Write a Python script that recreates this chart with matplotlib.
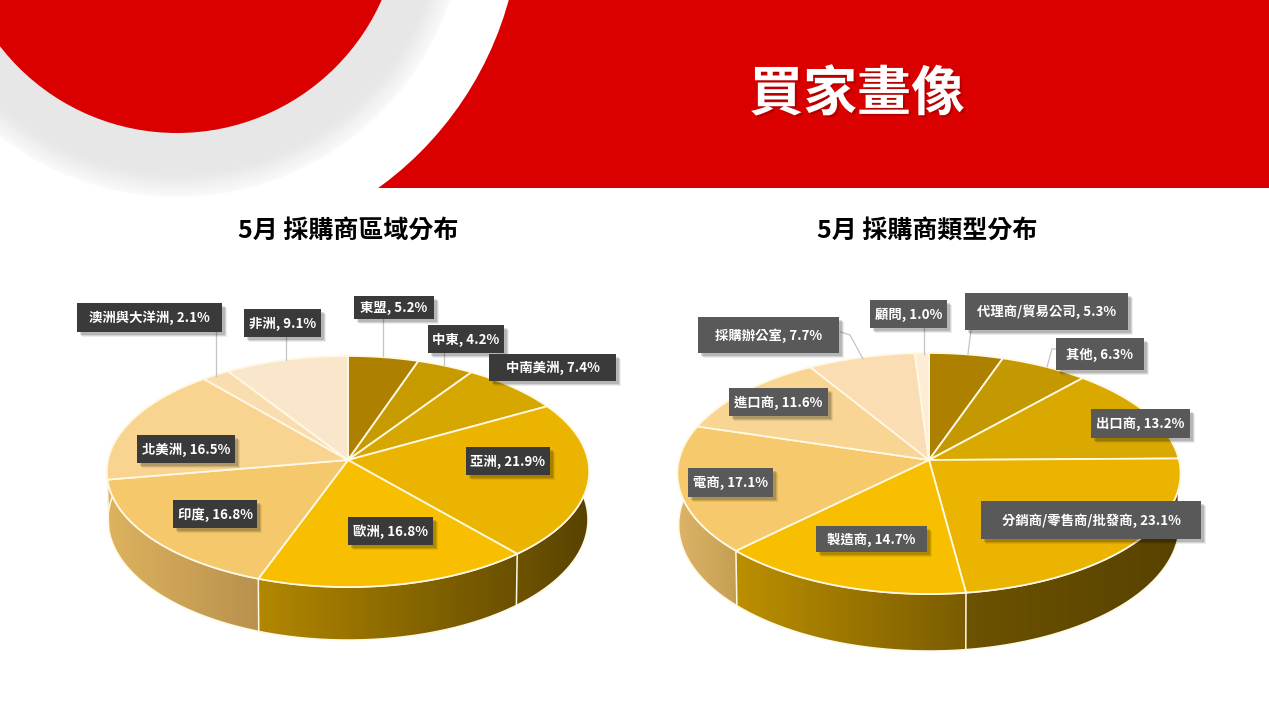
import numpy as np
import matplotlib
matplotlib.use("Agg")
import matplotlib.pyplot as plt
import matplotlib.patheffects as pe
from matplotlib.patches import Circle, Polygon, Rectangle
from matplotlib.colors import to_rgb

plt.rcParams['font.family'] = ['Noto Sans CJK TC', 'DejaVu Sans']

# Data
region_names = ['東盟', '中東', '中南美洲', '亞洲', '歐洲', '印度', '北美洲', '澳洲與大洋洲', '非洲']
region_values = [5.2, 4.2, 7.4, 21.9, 16.8, 16.8, 16.5, 2.1, 9.1]
type_names = ['代理商/貿易公司', '其他', '出口商', '分銷商/零售商/批發商', '製造商', '電商', '進口商', '採購辦公室', '顧問']
type_values = [5.3, 6.3, 13.2, 23.1, 14.7, 17.1, 11.6, 7.7, 1.0]

# Styles
top_colors_a = ['#AD8000', '#C79B00', '#D6A700', '#EBB400', '#F7BF00', '#F6C86C', '#F8D490', '#F9DDAE', '#FAE7CB']
top_colors_b = ['#AD8000', '#C49800', '#D9A900', '#EBB400', '#F7BF00', '#F6C96C', '#F8D592', '#FADDB2', '#FCEDD4']
walls_a = [None, None, None, ('#6E5300', '#574200'), ('#B28700', '#6A5000'), ('#DDB35F', '#B9914C'), ('#DDB35F', '#DDB35F'), None, None]
walls_b = [None, None, None, ('#6C5200', '#574200'), ('#BC8F00', '#7A5C00'), ('#DDB468', '#C49F52'), ('#DDB468', '#DDB468'), None, None]

# label boxes x0, y0, x1, y1
boxes_a = [(354, 296, 434, 319), (428, 325, 504, 353), (489, 354, 616, 381), (466, 447, 550, 475),
           (348, 517, 433, 545), (173, 500, 257, 528), (137, 435, 235, 463), (77, 303, 222, 332), (244, 309, 321, 337)]
boxes_b = [(965, 293, 1128, 330), (1056, 338, 1144, 370), (1091, 409, 1190, 438), (981, 501, 1201, 539),
           (816, 526, 927, 552), (688, 468, 773, 497), (729, 388, 828, 416), (698, 317, 839, 353), (870, 300, 947, 328)]
leaders_a = [[(383, 319), (383, 356)], [(444, 353), (444, 365)], [(216, 332), (216, 376)], [(286, 337), (286, 360)]]
leaders_b = [[(971, 330), (968, 354)], [(1056, 349), (1052, 349), (1047, 367)], [(924, 328), (924, 354)],
             [(841, 332), (850, 335), (863, 359)]]

RED = '#DA0000'
EDGE = '#FFF8E4'


def project(theta, pie, drop=False):
    cx, cy, r, rh, k, depth = pie
    u, v = np.sin(theta), np.cos(theta)
    w = 1 + k * v
    x = cx + r * u / w
    y = cy - rh * v / w
    if drop:
        x = cx + 0.995 * r * u / w
        y = y + depth / w
    return np.column_stack([x, y])


def draw_pie(ax, values, names, colors, walls, boxes, leaders, pie, box_color):
    edges = np.cumsum([0] + values) / sum(values) * 2 * np.pi
    # side walls
    for i, wall in enumerate(walls):
        if wall is None:
            continue
        t = np.linspace(edges[i], edges[i + 1], 80)
        pts = np.vstack([project(t, pie), project(t[::-1], pie, True)])
        c0, c1 = np.array(to_rgb(wall[0])), np.array(to_rgb(wall[1]))
        grad = np.linspace(c0, c1, 200)[None, :, :]
        x0, x1 = pts[:, 0].min(), pts[:, 0].max()
        y0, y1 = pts[:, 1].min(), pts[:, 1].max()
        im = ax.imshow(grad, extent=(x0, x1, y1, y0), aspect='auto', zorder=2, interpolation='bilinear')
        im.set_clip_path(Polygon(pts, transform=ax.transData))
        ax.plot(pts[:, 0], pts[:, 1], color=EDGE, lw=1.1, zorder=3)
    # top face
    for i, col in enumerate(colors):
        t = np.linspace(edges[i], edges[i + 1], 80)
        pts = np.vstack([[pie[0], pie[1]], project(t, pie)])
        ax.add_patch(Polygon(pts, closed=True, fc=col, ec=EDGE, lw=1.3, joinstyle='round', zorder=4))
    # leader lines
    for line in leaders:
        xs, ys = zip(*line)
        ax.plot(xs, ys, color='#C4C4C4', lw=0.9, zorder=5)
    # labels
    for name, val, b in zip(names, values, boxes):
        x0, y0, x1, y1 = b
        for off, alpha in [(4.5, 0.07), (3.5, 0.10), (2.5, 0.14)]:
            ax.add_patch(Rectangle((x0 + off, y0 + off), x1 - x0, y1 - y0, fc='black', ec='none', alpha=alpha, zorder=6))
        ax.add_patch(Rectangle((x0, y0), x1 - x0, y1 - y0, fc=box_color, ec='none', zorder=7))
        ax.text((x0 + x1) / 2, (y0 + y1) / 2 - 1, f'{name}, {val}%', color='white', fontsize=9.6, fontweight='bold',
                ha='center', va='center_baseline', zorder=8)


fig = plt.figure(figsize=(12.69, 7.08), dpi=100)
ax = fig.add_axes([0, 0, 1, 1])
ax.set_xlim(0, 1269)
ax.set_ylim(708, 0)
ax.axis('off')

# header shapes
ax.add_patch(Rectangle((0, 0), 1269, 188, fc=RED, ec='none', zorder=0))
ring_c = (177, -91)
ax.add_patch(Circle(ring_c, 344, fc='white', ec='none', zorder=0.1))
radii = np.linspace(288, 224, 24)
for n, rad in enumerate(radii):
    g = 0.975 - 0.07 * min(n / 8, 1)
    ax.add_patch(Circle(ring_c, rad, fc=(g, g, g), ec='none', zorder=0.2 + n * 0.001))
ax.add_patch(Circle(ring_c, 224, fc=RED, ec='none', zorder=0.5))

title = ax.text(857, 95, '買家畫像', color='white', fontsize=38.8, fontweight='bold', ha='center', va='center', zorder=8)
title.set_path_effects([pe.withSimplePatchShadow(offset=(1.5, -1.5), shadow_rgbFace='#700000', alpha=0.35)])
ax.text(348, 231, '5月 採購商區域分布', color='black', fontsize=18, fontweight='bold', ha='center', va='center')
ax.text(927, 231, '5月 採購商類型分布', color='black', fontsize=18, fontweight='bold', ha='center', va='center')

# cx, cy, radius, squash, perspective, depth
pie_a = (348, 460, 240, 114.4, 0.0996, 47.7)
pie_b = (929, 460, 250, 119.0, 0.112, 50.6)
draw_pie(ax, region_values, region_names, top_colors_a, walls_a, boxes_a, leaders_a, pie_a, '#3A3A3A')
draw_pie(ax, type_values, type_names, top_colors_b, walls_b, boxes_b, leaders_b, pie_b, '#595959')

ax.set_xlim(0, 1269)
ax.set_ylim(708, 0)
fig.savefig('out.png', dpi=100)
